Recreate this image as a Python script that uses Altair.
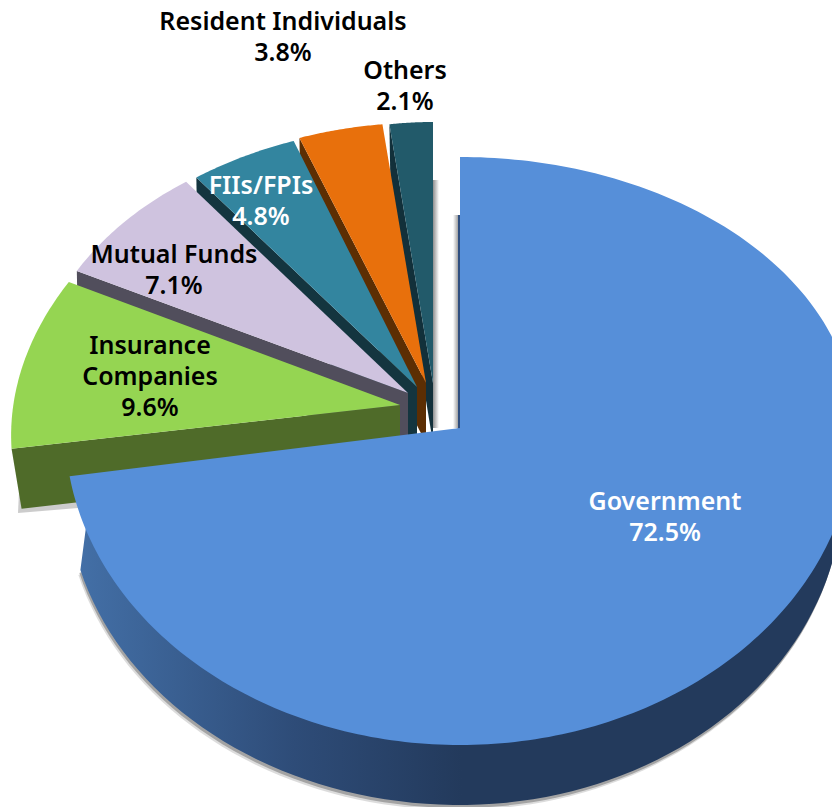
import math
import altair as alt
import pandas as pd

names = ["Government", "Insurance Companies", "Mutual Funds", "FIIs/FPIs", "Resident Individuals", "Others"]
shares = [72.5, 9.6, 7.1, 4.8, 3.8, 2.1]
top_colors = ["#568FD9", "#95D552", "#CFC3DF", "#33859F", "#E8700C", "#225A6A"]
side_colors = ["#233A5C", "#4F6B29", "#514E5C", "#14353F", "#5C2E03", "#12303A"]

# exploded-view geometry per slice: apex, radii at slice start and end, outer drop
apex = [(460, 428), (400, 405), (408, 393), (417, 387), (426, 383), (433, 383)]
rx_span = [(395, 395), (393, 368), (368, 356), (354, 340), (349, 331), (331, 331)]
ry_span = [(271, 317), (288, 282), (280, 270), (268, 264), (263, 261), (261, 261)]
outer_dx = [0, 10, 1, 1, 1, 1]
DEPTH = 60

label_lines = [
    ("Resident Individuals", 283, 22, "black"), ("3.8%", 283, 53, "black"),
    ("Others", 405, 71, "black"), ("2.1%", 405, 102, "black"),
    ("FIIs/FPIs", 261, 186, "white"), ("4.8%", 261, 217, "white"),
    ("Mutual Funds", 174, 255, "black"), ("7.1%", 174, 286, "black"),
    ("Insurance", 150, 346, "black"), ("Companies", 150, 377, "black"), ("9.6%", 150, 408, "black"),
    ("Government", 665, 502, "white"), ("72.5%", 665, 533, "white"),
]

x_scale = alt.Scale(domain=[8, 832], nice=False, zero=False)
y_scale = alt.Scale(domain=[807, 8], nice=False, zero=False)


def poly(points, fill, opacity=1.0):
    df = pd.DataFrame({"x": [p[0] for p in points], "y": [p[1] for p in points],
                       "i": list(range(len(points)))})
    return alt.Chart(df).mark_line(fill=fill, strokeOpacity=0, fillOpacity=opacity, clip=True).encode(
        x=alt.X("x:Q", scale=x_scale, axis=None),
        y=alt.Y("y:Q", scale=y_scale, axis=None),
        order="i:Q",
    )


def grad(stops):
    return alt.LinearGradient(gradient="linear", x1=0, x2=1, y1=0, y2=0,
                              stops=[alt.GradientStop(offset=o, color=c) for o, c in stops])


total = sum(shares)
edges = [0.0]
for s in shares:
    edges.append(edges[-1] + s / total * 360)

layers = []


def small_arc(k, n=40):
    a0, a1 = edges[k], edges[k + 1]
    ax, ay = apex[k]
    pts = []
    for j in range(n + 1):
        t = j / n
        th = math.radians(a0 + (a1 - a0) * t)
        rx = rx_span[k][0] + (rx_span[k][1] - rx_span[k][0]) * t
        ry = ry_span[k][0] + (ry_span[k][1] - ry_span[k][0]) * t
        pts.append((ax + rx * math.sin(th), ay - ry * math.cos(th)))
    return pts


# gutter shadows beside the gap at the top of the big slice
layers.append(poly([(433, 180), (439, 180), (439, 428), (433, 428)], grad([(0, "#8f8f8f"), (1, "#ffffff")])))
layers.append(poly([(453, 215), (459, 215), (459, 428), (453, 428)], grad([(0, "#ffffff"), (1, "#8f8f8f")])))
# shadow under the insurance slice
layers.append(poly([(20, 470), (18, 513), (90, 507), (90, 470)], "#808080", 0.4))

# back-to-front small slices
for k in range(5, 0, -1):
    arc = small_arc(k)
    ax, ay = apex[k]
    px, py = arc[0]
    side = [(px, py), (ax, ay), (ax, ay + DEPTH), (px + outer_dx[k], py + DEPTH)]
    layers.append(poly(side, side_colors[k]))
    layers.append(poly([(ax, ay)] + arc, top_colors[k]))

# big slice: shadow, rim, top
cx, cy = apex[0]


def rim(dx_s, dy_s, a0=55, a1=255):
    pts = []
    for d in range(a0, a1 + 1, 2):
        th = math.radians(d)
        s, c = math.sin(th), math.cos(th)
        rx = 383 if s > 0 else 393
        ry = ry_span[0][0] if c > 0 else ry_span[0][1]
        pts.append((cx + rx * s + dx_s, cy - ry * c + DEPTH + dy_s))
    return pts


layers.append(poly(rim(-2, 5) + [(cx, cy)], "#9a9a9a", 0.35))
layers.append(poly(rim(-1, 3) + [(cx, cy)], "#8a8a8a", 0.7))
layers.append(poly(rim(0, 0) + [(86, 527), (cx, cy)],
                   grad([(0, "#436FA6"), (0.28, "#2E4C78"), (0.5, "#233A5C"), (1, "#233A5C")])))
layers.append(poly([(458, 215), (460, 215), (460, 428), (458, 428)], "#2F4F80"))

a_end = edges[1]
top = []
for d10 in range(0, int(a_end * 10) + 1, 10):
    th = math.radians(d10 / 10)
    s, c = math.sin(th), math.cos(th)
    ry = ry_span[0][0] if c > 0 else ry_span[0][1]
    top.append((cx + 395 * s, cy - ry * c))
th = math.radians(a_end)
top.append((cx + 395 * math.sin(th), cy - ry_span[0][1] * math.cos(th)))
layers.append(poly([(cx, cy)] + top, top_colors[0]))

# labels
for col in ("black", "white"):
    lab = pd.DataFrame([{"t": t, "x": x, "y": y} for t, x, y, c in label_lines if c == col])
    layers.append(
        alt.Chart(lab).mark_text(font="Noto Sans", fontWeight=600, fontSize=25, color=col,
                                 align="center", baseline="middle").encode(
            x=alt.X("x:Q", scale=x_scale, axis=None),
            y=alt.Y("y:Q", scale=y_scale, axis=None),
            text="t:N",
        )
    )

chart = alt.layer(*layers).properties(
    width=824, height=799, padding=0,
    autosize=alt.AutoSizeParams(type="none"),
).configure_view(stroke=None)

chart.save("out.html", embed_options={"renderer": "svg", "actions": False})
